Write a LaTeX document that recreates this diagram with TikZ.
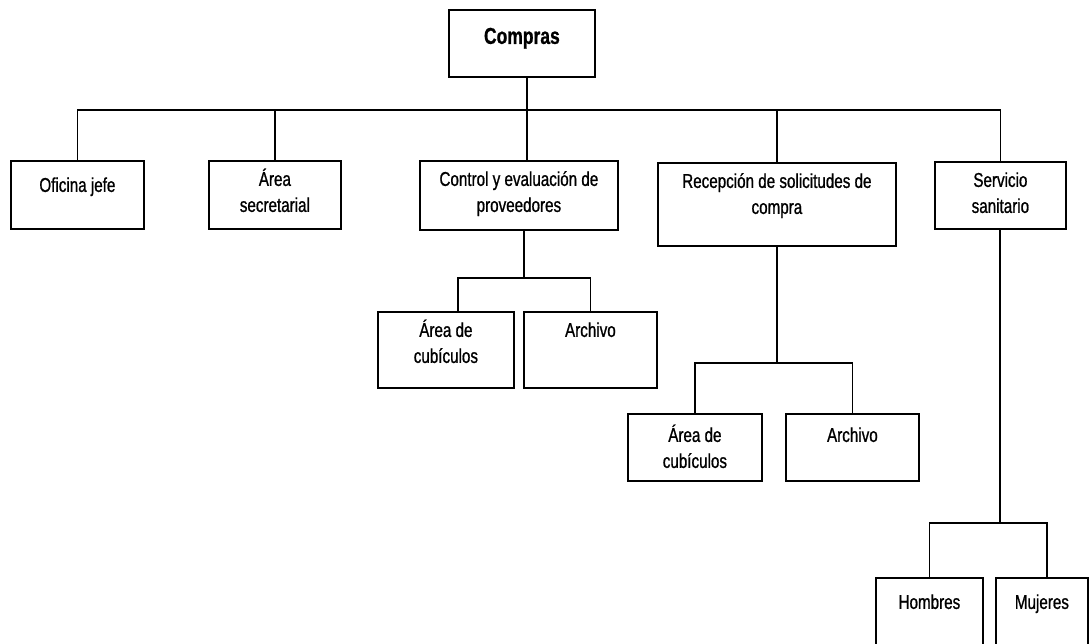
\documentclass[tikz,border=0pt]{standalone}
\usepackage{fontspec}
\setmainfont{Liberation Sans}[FakeStretch=0.76, FakeBold=0.9]
\newcommand{\orgcell}[4][25]{\parbox[c][#3pt][t]{#2pt}{\centering\fontsize{20}{26}\selectfont\rule{0pt}{#1pt}#4\par}}
\tikzset{
  cell/.style={draw, line width=1.8pt, inner sep=0pt, anchor=north west, fill=white},
  link/.style={line width=1.8pt}
}
\begin{document}
\begin{tikzpicture}[x=1pt, y=-1pt]
\useasboundingbox (0,0) rectangle (1091,644);
\clip (0,0) rectangle (1091,644);
\fill[white] (0,0) rectangle (1091,644);

% top of the hierarchy
\node[cell] (compras) at (448,9)
  {\parbox[c][67pt][t]{146pt}{\centering\fontsize{23}{28}\selectfont\bfseries\rule{0pt}{34pt}Compras}};

% first level
\node[cell] (oficina)     at (10,160)  {\orgcell[31]{133}{68}{Oficina jefe}};
\node[cell] (secretarial) at (208,160) {\orgcell{132}{68}{Área\\secretarial}};
\node[cell] (control)     at (419,160) {\orgcell{198}{69}{Control y evaluación de\\proveedores}};
\node[cell] (recepcion)   at (657,162) {\orgcell{238}{83}{Recepción de solicitudes de\\compra}};
\node[cell] (servicio)    at (934,161) {\orgcell{131}{67}{Servicio\\sanitario}};

% second level
\node[cell] (cub1)  at (377,311) {\orgcell{136}{76}{Área de\\cubículos}};
\node[cell] (arch1) at (523,311) {\orgcell{133}{76}{Archivo}};
\node[cell] (cub2)  at (627,413) {\orgcell[28]{134}{67}{Área de\\cubículos}};
\node[cell] (arch2) at (785,413) {\orgcell[28]{133}{67}{Archivo}};
\node[cell] (hombres) at (875,577) {\orgcell[31]{107}{90}{Hombres}};
\node[cell] (mujeres) at (995,577) {\orgcell[31]{92}{90}{Mujeres}};

% junction points of the connectors
\coordinate (bus) at (527,110);
\coordinate (j1) at (524,278);
\coordinate (j2) at (777,363);
\coordinate (j3) at (1000,523);

% main bus
\draw[link] (compras.south -| bus) -- (control.north -| bus);
\draw[link] (oficina.north) |- (bus) -| (servicio.north);
\draw[link] (secretarial.north) -- (secretarial.north |- bus);
\draw[link] (recepcion.north) -- (recepcion.north |- bus);

% branches
\draw[link] (control.south -| j1) -- (j1);
\draw[link] ([xshift=12pt]cub1.north) |- (j1) -| (arch1.north);
\draw[link] (recepcion.south -| j2) -- (j2);
\draw[link] (cub2.north) |- (j2) -| (arch2.north);
\draw[link] (servicio.south -| j3) -- (j3);
\draw[link] (hombres.north) |- (j3) -| ([xshift=5pt]mujeres.north);
\end{tikzpicture}
\end{document}
